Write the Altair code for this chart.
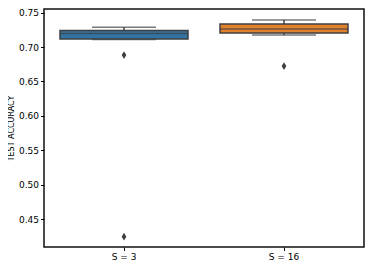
import altair as alt
import pandas as pd

groups = ["S = 3", "S = 16"]
colors = ["#3274a1", "#e1812c"]
q1 = [0.7118, 0.7205]
median = [0.7198, 0.7263]
q3 = [0.7243, 0.7336]
whisk_lo = [0.7112, 0.7176]
whisk_hi = [0.7288, 0.7394]
out_group = ["S = 3", "S = 3", "S = 16"]
out_val = [0.6885, 0.4243, 0.6725]
y_ticks = [0.45, 0.50, 0.55, 0.60, 0.65, 0.70, 0.75]

df = pd.DataFrame({"g": groups, "q1": q1, "med": median, "q3": q3,
                   "lo": whisk_lo, "hi": whisk_hi, "c": colors})
dfo = pd.DataFrame({"g": out_group, "v": out_val})

edge = "#3f3f3f"
FONT = "DejaVu Sans"
xenc = alt.X("g:N", sort=groups, title=None,
             scale=alt.Scale(paddingInner=0, paddingOuter=0),
             axis=alt.Axis(labelAngle=0, labelFontSize=9, labelColor="black", labelFont=FONT,
                           tickColor="black", tickSize=3.5, domain=False, labelPadding=2))
yscale = alt.Scale(domain=[0.4093, 0.7554], nice=False, zero=False)
yaxis = alt.Axis(values=y_ticks, format=".2f", labelFontSize=9, labelColor="black",
                 labelFont=FONT, titleFont=FONT,
                 tickColor="black", tickSize=3.5, domain=False, grid=False,
                 labelOverlap=False, labelFlush=False,
                 title="TEST ACCURACY", titleFontSize=8, titleFontWeight="normal",
                 titleColor="black", titlePadding=3, labelPadding=2)

base = alt.Chart(df)
wl = base.mark_rule(color=edge, strokeWidth=1.5).encode(
    x=xenc, y=alt.Y("lo:Q", scale=yscale, axis=yaxis), y2="q1:Q")
wh = base.mark_rule(color=edge, strokeWidth=1.5).encode(
    x=xenc, y=alt.Y("q3:Q", scale=yscale, axis=yaxis), y2="hi:Q")
caps_lo = base.mark_tick(color=edge, size=64, thickness=1.5).encode(
    x=xenc, y=alt.Y("lo:Q", scale=yscale, axis=yaxis))
caps_hi = base.mark_tick(color=edge, size=64, thickness=1.5).encode(
    x=xenc, y=alt.Y("hi:Q", scale=yscale, axis=yaxis))
box = base.mark_bar(width=alt.RelativeBandSize(0.8), stroke=edge, strokeWidth=1.5).encode(
    x=xenc, y=alt.Y("q1:Q", scale=yscale, axis=yaxis), y2="q3:Q",
    fill=alt.Fill("c:N", scale=None))
med = base.mark_tick(color=edge, size=128, thickness=1.5).encode(
    x=xenc, y=alt.Y("med:Q", scale=yscale, axis=yaxis))
outl = alt.Chart(dfo).mark_point(shape="M0,-1L0.6,0L0,1L-0.6,0Z", filled=True,
                                 color=edge, size=60, opacity=1).encode(
    x=xenc, y=alt.Y("v:Q", scale=yscale, axis=yaxis))

chart = alt.layer(wl, wh, caps_lo, caps_hi, box, med, outl).properties(
    width=320, height=238,
    autosize=alt.AutoSizeParams(type="none"),
    padding={"left": 36, "top": 1, "right": 2, "bottom": 18},
).configure(
    font=FONT,
    view=alt.ViewConfig(stroke="#111111", strokeWidth=1.5),
    axis=alt.AxisConfig(labelOverlap=False),
)

chart.save("out.html", embed_options={"renderer": "svg", "actions": False})
